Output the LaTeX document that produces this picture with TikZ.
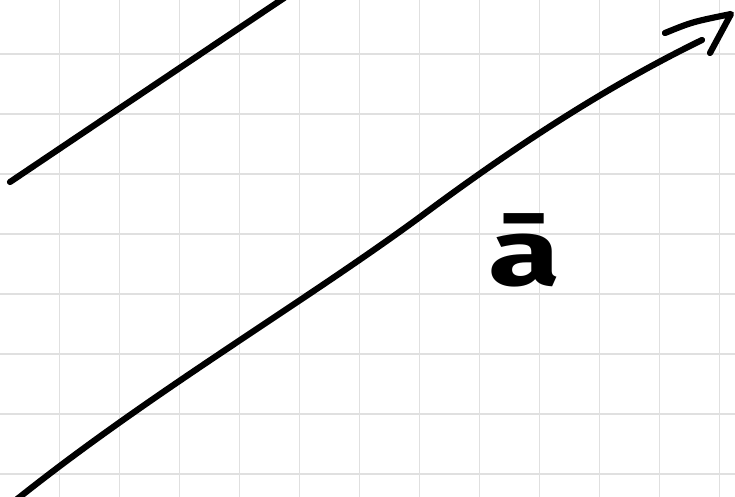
\documentclass[tikz,border=0pt]{standalone}
\usepackage{fontspec}
\newfontfamily\labelfont{Fira Sans}
\begin{document}
\begin{tikzpicture}[x=1pt,y=-1pt,
  gridline/.style={draw=black!12, line width=1.6pt},
  stroke/.style={draw=black, line width=6.2pt, line cap=round, line join=round},
  label/.style={font=\labelfont\bfseries\fontsize{94}{94}\selectfont, inner sep=0pt, xscale=1.4}]
\fill[white] (0,0) rectangle (735,497);
\useasboundingbox (0,0) rectangle (735,497);
\clip (0,0) rectangle (735,497);
\foreach \x in {59.5,119.5,...,720} \draw[gridline] (\x,0) -- (\x,497);
\foreach \y in {54,114,...,480} \draw[gridline] (0,\y) -- (735,\y);
% upper-left line
\coordinate (u1) at (10,182);
\coordinate (u2) at (290,-6);
\draw[stroke] (u1) .. controls (120,108) .. (u2);
% main vector
\coordinate (s) at (16,500);
\coordinate (m) at (420,217);
\coordinate (e) at (702,40);
\coordinate (tip) at (731,14);
\coordinate (h1) at (665,33);
\coordinate (h2) at (710,53);
\draw[stroke] (s) .. controls (150,393) and (300,305) .. (m)
  .. controls (530,135) and (620,80) .. (e);
\draw[stroke] (h1) .. controls (692,22) .. (tip) -- (h2);
\node[label] (a) at (525,250) {ā};
\end{tikzpicture}
\end{document}
